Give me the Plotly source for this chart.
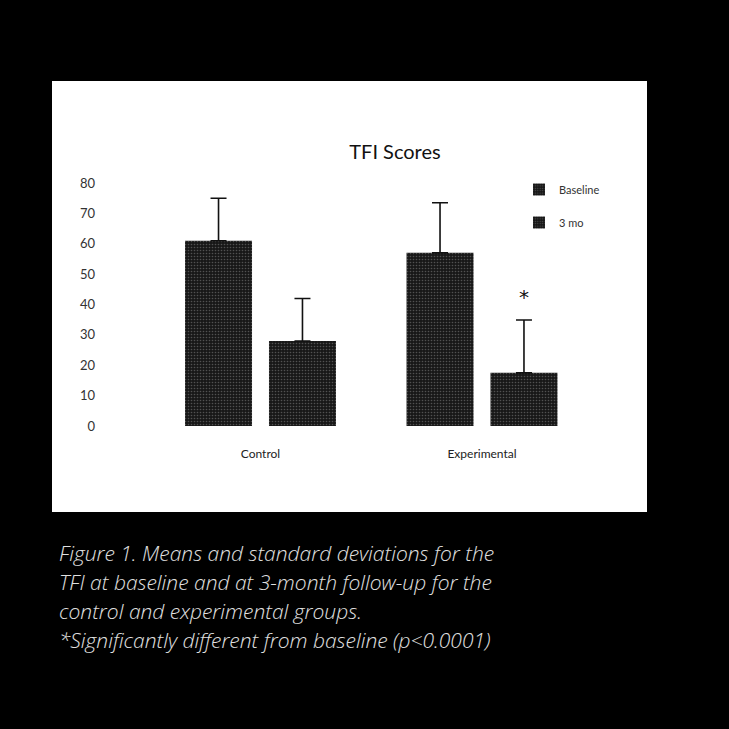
import plotly.graph_objects as go

groups = ["Control", "Experimental"]
series_names = ["Baseline", "3 mo"]
baseline_means = [61, 57]
baseline_sd = [14, 16.5]
followup_means = [28, 17.5]
followup_sd = [14, 17.4]
y_ticks = [0, 10, 20, 30, 40, 50, 60, 70, 80]
title_text = "TFI Scores"
caption_lines = [
    "Figure 1. Means and standard deviations for the",
    "TFI at baseline and at 3-month follow-up for the",
    "control and experimental groups.",
    "*Significantly different from baseline (p<0.0001)",
]

# Layout geometry (pixels in a 729x729 page)
W = H = 729
L, R, T, B = 100, 620, 183, 426  # plot area
pw, ph = R - L, B - T


def px_x(x):
    return (x - L) / pw


def px_y(y):
    return (B - y) / ph


bar_pattern = dict(shape=".", fgcolor="#8a8a8a", bgcolor="#181818", size=3, solidity=0.22)

fig = go.Figure()
for name, means, sds, grp in [
    (series_names[0], baseline_means, baseline_sd, "g1"),
    (series_names[1], followup_means, followup_sd, "g2"),
]:
    fig.add_trace(go.Bar(
        x=groups, y=means, name=name, legendgroup=grp,
        marker=dict(color="#181818", line=dict(width=0), pattern=bar_pattern),
        error_y=dict(type="data", array=sds, arrayminus=[0, 0], symmetric=False,
                     color="#111111", thickness=1.6, width=8),
    ))

fig.update_layout(
    width=W, height=H,
    margin=dict(l=L, r=W - R, t=T, b=H - B, autoexpand=False),
    paper_bgcolor="#000000",
    plot_bgcolor="rgba(0,0,0,0)",
    barmode="group", bargap=0.242, bargroupgap=0.202,
    showlegend=True,
    legend=dict(x=px_x(519), y=px_y(175), xanchor="left", yanchor="top",
                bgcolor="rgba(0,0,0,0)", font=dict(family="Lato", size=11, color="#333333"),
                traceorder="grouped", tracegroupgap=14, itemwidth=30),
    title=dict(text=title_text, x=395 / W, xref="container", xanchor="center",
               y=1 - 152 / H, yref="container", yanchor="middle",
               font=dict(family="Lato", size=20, color="#111111")),
    xaxis=dict(range=[-160.5 / 221.5, 1 + (R - 482) / 221.5], showgrid=False, zeroline=False,
               showline=False, ticks="outside", ticklen=17, tickcolor="rgba(0,0,0,0)",
               tickfont=dict(family="Lato", size=12, color="#222222")),
    yaxis=dict(range=[0, 80], tickvals=y_ticks, showgrid=False, zeroline=False,
               showline=False, ticklabelstandoff=4,
               tickfont=dict(family="Lato", size=13, color="#333333")),
    shapes=[dict(type="rect", xref="paper", yref="paper", layer="below",
                 x0=px_x(52), x1=px_x(647), y0=px_y(512), y1=px_y(81),
                 fillcolor="#ffffff", line=dict(width=0))],
)

fig.add_annotation(x=1 + 42 / 221.5, y=42.5, xref="x", yref="y", text="*", showarrow=False,
                   font=dict(family="DejaVu Sans", size=20, color="#111111"))

caption_y = [553, 582, 611, 640]
for line, yy in zip(caption_lines, caption_y):
    fig.add_annotation(x=px_x(57), y=px_y(yy), xref="paper", yref="paper", text=f"<i>{line}</i>",
                       showarrow=False, xanchor="left", yanchor="middle",
                       font=dict(family="Open Sans", size=21, weight=300, color="#e0e0e0"))

fig.write_html("out.html", config={"displayModeBar": False},
               post_script="document.body.style.margin='0';document.body.style.padding='0';")
